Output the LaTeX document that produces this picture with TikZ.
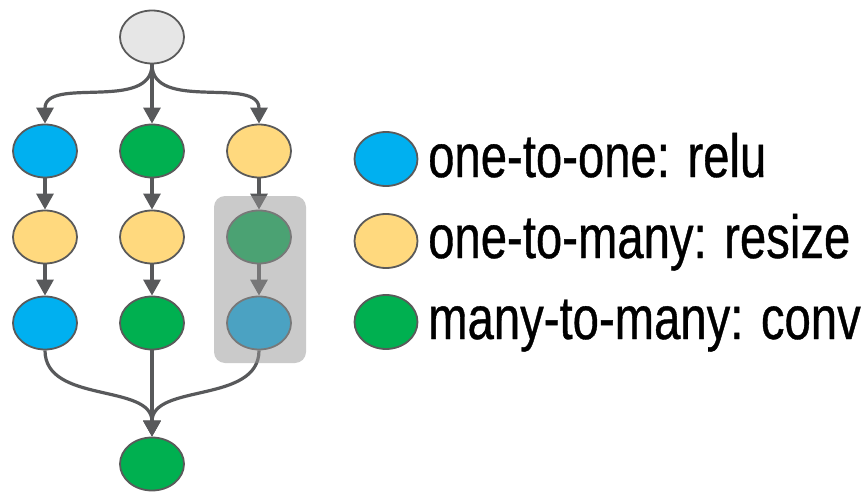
\documentclass[tikz,border=0pt]{standalone}
\usepackage{fontspec}
\newfontfamily\legendfont[FakeStretch=0.775,FakeBold=0.6]{Liberation Sans}
\usetikzlibrary{arrows.meta,shapes.geometric}
\definecolor{opblue}{HTML}{00B0F0}
\definecolor{opyellow}{HTML}{FFD97E}
\definecolor{opgreen}{HTML}{00B050}
\definecolor{opgray}{HTML}{E6E6E6}
\definecolor{edgegray}{HTML}{58595B}
\definecolor{outline}{HTML}{5A5A5A}
\definecolor{fusegray}{RGB}{150,150,150}
\tikzset{
  op/.style={ellipse, draw=outline, line width=1.8pt, minimum width=64pt, minimum height=53pt, inner sep=0pt},
  keyop/.style={op, minimum width=63pt, minimum height=54pt},
  flow/.style={draw=edgegray, line width=3.2pt, -{Triangle[length=16pt,width=17pt]}},
  keytext/.style={anchor=base west, inner sep=0pt, font=\legendfont\fontsize{61}{70}\selectfont},
}
\begin{document}
\begin{tikzpicture}[x=1pt,y=-1pt]
\useasboundingbox (0,0) rectangle (867,492);
% operator graph
\node[op, fill=opgray]   (in) at (152,37) {};
\node[op, fill=opblue]   (a1) at (45,151) {};
\node[op, fill=opyellow] (a2) at (45,237) {};
\node[op, fill=opblue]   (a3) at (45,323) {};
\node[op, fill=opgreen]  (b1) at (152,151) {};
\node[op, fill=opyellow] (b2) at (152,237) {};
\node[op, fill=opgreen]  (b3) at (152,323) {};
\node[op, fill=opyellow] (c1) at (259,151) {};
\node[op, fill=opgreen]  (c2) at (259,237) {};
\node[op, fill=opblue]   (c3) at (259,323) {};
\node[op, fill=opgreen]  (out) at (152,464) {};

\draw[flow] (in.south) to[out=-90,in=90] (a1.north);
\draw[flow] (in.south) -- (b1.north);
\draw[flow] (in.south) to[out=-90,in=90] (c1.north);
\draw[flow] (a1) -- (a2);
\draw[flow] (a2) -- (a3);
\draw[flow] (b1) -- (b2);
\draw[flow] (b2) -- (b3);
\draw[flow] (c1) -- (c2);
\draw[flow] (c2) -- (c3);
\draw[flow] (a3.south) to[out=-90,in=90] (out.north);
\draw[flow] (b3.south) -- (out.north);
\draw[flow] (c3.south) to[out=-90,in=90] (out.north);

% fused group overlay
\node[fill=fusegray, fill opacity=0.5, rounded corners=11pt, minimum width=92pt, minimum height=167pt, inner sep=0pt] (fuse) at (260,279.5) {};

% key
\node[keyop, fill=opblue]   (k1) at (386,159) {};
\node[keyop, fill=opyellow] (k2) at (386,241) {};
\node[keyop, fill=opgreen]  (k3) at (386,322) {};
\node[keytext] (t1) at (428,177) {one-to-one: relu};
\node[keytext] (t2) at (428,258) {one-to-many: resize};
\node[keytext] (t3) at (428,339) {many-to-many: conv};
\end{tikzpicture}
\end{document}
